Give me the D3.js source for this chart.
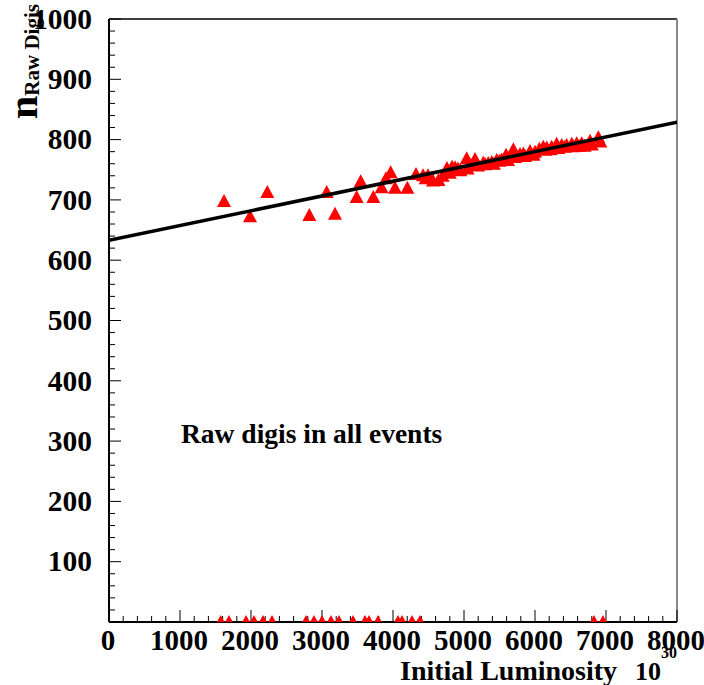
<!DOCTYPE html>
<html>
<head>
<meta charset="utf-8">
<script src="https://cdn.jsdelivr.net/npm/d3@7"></script>
<style>
  html, body { margin: 0; padding: 0; background: #fff; }
  svg { display: block; }
  text { font-family: "Liberation Serif", "Times New Roman", Times, serif; font-weight: bold; fill: #000; }
</style>
</head>
<body>
<svg id="chart" width="704" height="685"></svg>
<script>
// ---- data ----
const lumi = [1620, 1986, 2230, 2822, 3066, 3183, 3488, 3545, 3723, 3840, 3901, 3967, 4028, 4202,
  4324, 4423, 4460, 4493, 4563, 4640, 4700, 4760, 4800, 4831, 4873, 4915, 4950, 5038, 5050, 5100,
  5155, 5200, 5272, 5300, 5342, 5390, 5420, 5460, 5500, 5530, 5592, 5620, 5695, 5720, 5789, 5835,
  5860, 5930, 5980, 6000, 6061, 6117, 6140, 6165, 6220, 6235, 6305, 6330, 6376, 6420, 6446, 6517,
  6540, 6587, 6620, 6658, 6700, 6775, 6800, 6892, 6920];
const nDigis = [698, 673, 713, 675, 713, 677, 705, 731, 705, 721, 736, 746, 720, 720,
  743, 741, 736, 741, 732, 733, 740, 753, 745, 755, 754, 752, 749, 769, 752, 758,
  768, 757, 762, 759, 761, 763, 760, 766, 765, 767, 775, 766, 784, 771, 776, 777,
  773, 781, 775, 780, 785, 788, 783, 787, 784, 788, 793, 786, 791, 788, 791, 793,
  789, 794, 790, 794, 790, 798, 792, 804, 797];
// events with zero raw digis
const lumiZero = [1573, 1690, 1930, 2042, 2169, 2296, 2775, 2887, 3000, 3127, 3239, 3437, 3606,
  3662, 3789, 4070, 4127, 4268, 4380, 6831, 6958];
const nZero = lumiZero.map(() => 0);
// linear fit
const fitIntercept = 633;
const fitSlope = 0.0245;
const xTicks = [0, 1000, 2000, 3000, 4000, 5000, 6000, 7000, 8000];
const yTicks = [100, 200, 300, 400, 500, 600, 700, 800, 900, 1000];

// ---- layout ----
const svg = d3.select("#chart");
const L = 109, R = 677, T = 19, B = 622;
const x = d3.scaleLinear().domain([0, 8000]).range([L, R]);
const y = d3.scaleLinear().domain([0, 1000]).range([B, T]);

svg.append("defs").append("clipPath").attr("id", "clip")
  .append("rect").attr("x", L).attr("y", T).attr("width", R - L).attr("height", B - T);

// frame (top/right)
svg.append("line").attr("x1", L).attr("x2", R).attr("y1", T).attr("y2", T)
  .attr("stroke", "#000").attr("stroke-width", 1.5);
svg.append("line").attr("x1", R).attr("x2", R).attr("y1", T).attr("y2", B)
  .attr("stroke", "#888").attr("stroke-width", 2);

// x axis ticks (inside)
const xMinor = d3.range(0, 8001, 200);
svg.append("g").selectAll("line").data(xMinor).join("line")
  .attr("x1", d => x(d)).attr("x2", d => x(d))
  .attr("y1", B).attr("y2", d => B - (d % 1000 === 0 ? 12 : 6))
  .attr("stroke", "#000").attr("stroke-width", 1);
// y axis ticks
const yMinor = d3.range(0, 1001, 20);
svg.append("g").selectAll("line").data(yMinor).join("line")
  .attr("y1", d => y(d)).attr("y2", d => y(d))
  .attr("x1", L).attr("x2", d => L + (d % 100 === 0 ? 12 : 6))
  .attr("stroke", "#000").attr("stroke-width", 1);

// axis lines
svg.append("line").attr("x1", L).attr("x2", R).attr("y1", B).attr("y2", B)
  .attr("stroke", "#000").attr("stroke-width", 2);
svg.append("line").attr("x1", L).attr("x2", L).attr("y1", T).attr("y2", B)
  .attr("stroke", "#000").attr("stroke-width", 2);

// tick labels
svg.append("g").selectAll("text").data(xTicks).join("text")
  .attr("x", d => x(d) - 1).attr("y", 650).attr("text-anchor", "middle")
  .attr("font-size", 29).text(d => d);
svg.append("g").selectAll("text").data(yTicks).join("text")
  .attr("x", 92).attr("y", d => y(d)).attr("dy", "0.33em").attr("text-anchor", "end")
  .attr("font-size", 29.5).text(d => d);

// markers
const tri = "M0,-7L7,6L-7,6Z";
const plot = svg.append("g").attr("clip-path", "url(#clip)");
const pts = lumi.map((l, i) => [l, nDigis[i]]).concat(lumiZero.map((l, i) => [l, nZero[i]]));
plot.selectAll("path.m").data(pts).join("path").attr("class", "m")
  .attr("d", tri)
  .attr("transform", d => `translate(${x(d[0])},${y(d[1])})`)
  .attr("fill", "#ff0000");

// fit line
plot.append("line")
  .attr("x1", x(0)).attr("y1", y(fitIntercept))
  .attr("x2", x(8000)).attr("y2", y(fitIntercept + fitSlope * 8000))
  .attr("stroke", "#000").attr("stroke-width", 3.5);

// labels
svg.append("text").attr("x", 181).attr("y", 443).attr("font-size", 27.5)
  .text("Raw digis in all events");

svg.append("text").attr("x", 400).attr("y", 680).attr("font-size", 28)
  .text("Initial Luminosity");
const xt = svg.append("text").attr("x", 635).attr("y", 680).attr("font-size", 26);
xt.append("tspan").text("10");
xt.append("tspan").attr("dy", -22).attr("font-size", 16).text("30");

const yt = svg.append("text").attr("transform", "translate(37,119) rotate(-90)");
yt.append("tspan").attr("font-size", 42).text("n");
yt.append("tspan").attr("font-size", 21).attr("dy", 2).text("Raw Digis");
</script>
</body>
</html>
